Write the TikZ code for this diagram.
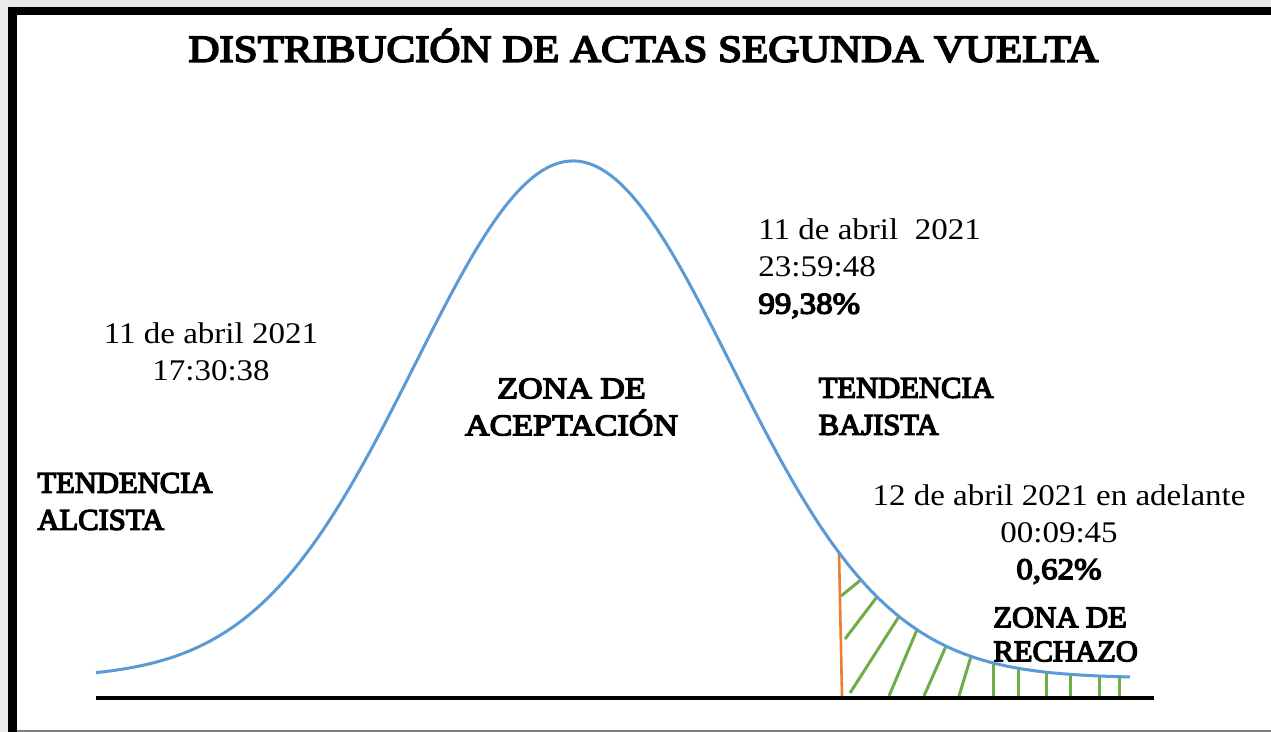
\documentclass[tikz,border=0pt]{standalone}
\usepackage{fontspec}
\setmainfont{Liberation Serif}[FakeStretch=1.1, BoldFont={Liberation Serif}, BoldFeatures={FakeBold=4.5}]
\newfontfamily\rotulofont{Liberation Serif}[FakeBold=4.5, FakeStretch=1.02]
\newfontfamily\zonafont{Liberation Serif}[FakeBold=4.5, FakeStretch=1.135]
\newfontfamily\titulofont{Liberation Serif}[FakeBold=4.5, FakeStretch=1.13]
\definecolor{curvablue}{HTML}{5B9BD5}
\definecolor{corteorange}{HTML}{ED7D31}
\definecolor{rayagreen}{HTML}{70AD47}
\definecolor{fondogray}{HTML}{EAEAEA}
\tikzset{
	texto/.style={inner sep=0pt, font=\fontsize{15}{18.5}\selectfont},
	negrita/.style={inner sep=0pt, font=\fontsize{15}{18.5}\selectfont\rotulofont},
	raya/.style={rayagreen, line width=1.5pt},
	declare function={campana(\t)=678-517*exp(-0.5*((\t-573)/158)^2);}
}
\begin{document}
\begin{tikzpicture}[x=0.5pt, y=-0.5pt]
		\fill[fondogray] (0,0) rectangle (1271,732);
		\fill[white] (17,15) rectangle (1271,730);
		\fill[black] (8,7) rectangle (1271,15);
		\fill[black] (8,7) rectangle (17,732);
		\fill[gray] (17,730) rectangle (1271,732);
		
		\node[inner sep=0pt, anchor=base, font=\fontsize{19}{22}\selectfont\titulofont] (titulo) at (643.5,61.7) {DISTRIBUCIÓN DE ACTAS SEGUNDA VUELTA};
		\node[texto, align=center] (fechaizq) at (211,351.5) {11 de abril 2021\\17:30:38};
		\node[negrita, align=left, anchor=west] (alcista) at (37,501.5) {TENDENCIA\\ALCISTA};
		\node[negrita, align=center, font=\fontsize{15}{18.5}\selectfont\zonafont] (aceptacion) at (571.5,407) {ZONA DE\\ACEPTACIÓN};
		\node[texto, align=left, anchor=west] (fechader) at (758,268.5) {11 de abril\ \ 2021\\23:59:48\\\textbf{99,38\%}};
		\node[negrita, align=left, anchor=west] (bajista) at (818.3,406.5) {TENDENCIA\\BAJISTA};
		\node[texto, align=center] (fechacola) at (1059,534) {12 de abril 2021 en adelante\\00:09:45\\\textbf{0,62\%}};
		\node[negrita, align=left, anchor=west, font=\fontsize{15}{17}\selectfont\rotulofont] (rechazo) at (993,634.5) {ZONA DE\\RECHAZO};
		
		\coordinate (ejeizq) at (96,698);
		\coordinate (ejeder) at (1154,698);
		\coordinate (cortearriba) at (839,{campana(839)});
		\coordinate (corteabajo) at (842,696);
		
		\foreach \xa/\ya/\xb in {841/596/861, 845/639/877, 850/693/899, 889/696/917, 924/696/946, 959/696/971, 993/696/993, 1018/696/1018, 1046/696/1046, 1070/696/1070, 1099/696/1099, 1119/696/1119}
			\draw[raya] (\xa,\ya) -- (\xb,{campana(\xb)});
		\draw[corteorange, line width=1.3pt] (cortearriba) -- (corteabajo);
		\draw[curvablue, line width=1.5pt] plot[domain=96:1130, samples=200] (\x,{campana(\x)});
		\draw[black, line width=1.7pt] (ejeizq) -- (ejeder);
		
	\end{tikzpicture}
\end{document}
